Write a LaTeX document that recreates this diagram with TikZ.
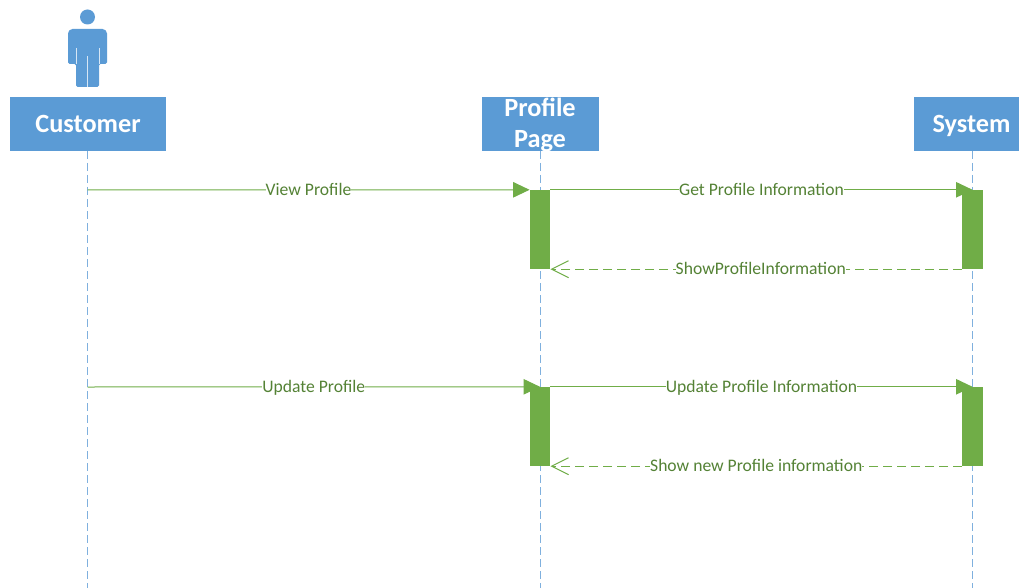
\documentclass[tikz,border=0pt]{standalone}
\usepackage{fontspec}
\setmainfont{Carlito}
\usetikzlibrary{arrows.meta}
\definecolor{boxblue}{HTML}{5B9BD5}
\definecolor{lifeblue}{HTML}{7FB0DE}
\definecolor{actgreen}{HTML}{70AD47}
\definecolor{txtgreen}{HTML}{548235}
\tikzset{
  x=1pt,y=-1pt,
  headfont/.style={text=white,font=\bfseries\fontsize{26.3}{32}\selectfont,inner sep=0pt,text height=17pt,text depth=0pt},
  headbox/.style={fill=boxblue,draw=none,headfont,minimum height=54pt},
  lifeline/.style={draw=lifeblue,line width=1pt,dash pattern=on 8pt off 4pt},
  activation/.style={fill=actgreen,draw=none,minimum width=20.5pt,minimum height=79pt,inner sep=0pt},
  callmsg/.style={draw=actgreen,line width=1pt,-{Triangle[length=16.5pt,width=15.5pt,fill=actgreen]}},
  retmsg/.style={draw=actgreen,line width=1pt,dash pattern=on 9pt off 5pt,-{Straight Barb[length=17pt,width=17pt,line width=1pt]}},
  msgtext/.style={fill=white,text=txtgreen,font=\fontsize{17.6}{20}\selectfont,inner xsep=0pt,inner ysep=1pt,text height=10pt,text depth=3pt,yshift=-2pt},
}
\begin{document}
\begin{tikzpicture}
\useasboundingbox (0,0) rectangle (1019,588);
\fill[white] (0,0) rectangle (1019,588);
% actor
\fill[boxblue] (87.5,17) circle (7.5);
\fill[boxblue,rounded corners=1.5pt] (71,29) -- (104,29) -- (107,32) -- (107,64) -- (99,64) -- (99,87) -- (76,87) -- (76,64) -- (68,64) -- (68,32) -- cycle;
\draw[white!75!boxblue,line width=0.8pt] (76,48) -- (76,64);
\draw[white!75!boxblue,line width=0.8pt] (99,48) -- (99,64);
\draw[white!75!boxblue,line width=0.8pt] (87.5,56) -- (87.5,87);
% heads
\begin{scope}
\clip (0,0) rectangle (1019,588);
\node[headbox,minimum width=156pt] (customer) at (88,124) {Customer};
\node[headbox,minimum width=117pt] (page) at (540,124) {};
\node[headbox,minimum width=115pt] (system) at (971.5,124) {System};
\end{scope}
\node[headfont] (pagetxt1) at (540,108) {Profile};
\node[headfont] (pagetxt2) at (540,139.5) {Page};
% lifeline ends
\coordinate (customerEnd) at (87.5,588);
\coordinate (pageEnd) at (540,588);
\coordinate (systemEnd) at (972,588);
\draw[lifeline] (87.5,151) -- (customerEnd);
\draw[lifeline] (540,151) -- (pageEnd);
\draw[lifeline] (972,151) -- (systemEnd);
% messages anchors
\coordinate (custA) at (87.5,190);
\coordinate (custB) at (87.5,387);
% activations
\node[activation] (a1) at (540,229.5) {};
\node[activation] (s1) at (972.5,229.5) {};
\node[activation] (a2) at (540,426.5) {};
\node[activation] (s2) at (972.5,426.5) {};
% messages
\draw[callmsg] (custA) -- (a1.north west) node[msgtext,pos=0.5] {View Profile};
\draw[callmsg] (a1.north east) -- (s1.north) node[msgtext,pos=0.5] {Get Profile Information};
\draw[retmsg] (s1.south west) -- (a1.south east) node[msgtext,pos=0.489] {ShowProfileInformation};
\draw[callmsg] (custB) -- (a2.north) node[msgtext,pos=0.5] {Update Profile};
\draw[callmsg] (a2.north east) -- (s2.north) node[msgtext,pos=0.5] {Update Profile Information};
\draw[retmsg] (s2.south west) -- (a2.south east) node[msgtext,pos=0.5] {Show new Profile information};
\end{tikzpicture}
\end{document}
